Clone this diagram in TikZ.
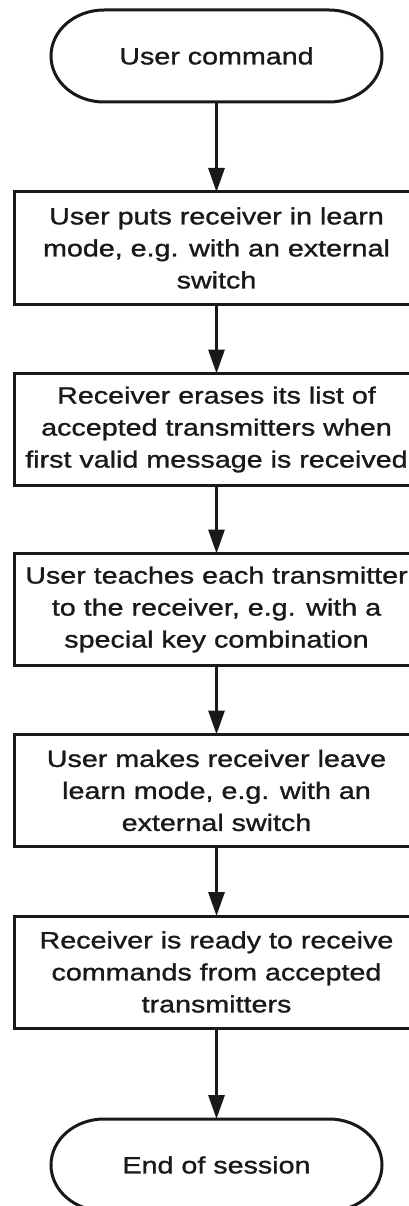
\documentclass[tikz,border=0pt]{standalone}
\usepackage{fontspec}
\newfontfamily\flowfont{Liberation Sans}[FakeStretch=1.22, FakeBold=1.2]
\usetikzlibrary{arrows.meta}

\tikzset{
  every node/.style={font=\flowfont\fontsize{23.5}{32}\selectfont, text=black!90,
                     align=center, outer sep=0pt},
  stepbox/.style={draw=black!90, line width=3pt, minimum width=405pt,
                  minimum height=112pt, inner sep=2pt},
  terminal/.style={minimum width=331pt, minimum height=92pt, inner sep=2pt},
  outline/.style={draw=black!90, line width=3pt},
  flow/.style={draw=black!90, line width=3pt, -{Triangle[length=24pt,width=16pt]}},
}

% stadium outline with elliptical ends around a terminal node
\newcommand\termoutline[1]{%
  \draw[outline] ([xshift=53pt]#1.north west) -- ([xshift=-53pt]#1.north east)
    arc[start angle=90, end angle=-90, x radius=53pt, y radius=46pt]
    -- ([xshift=53pt]#1.south west)
    arc[start angle=270, end angle=90, x radius=53pt, y radius=46pt] -- cycle;}

\begin{document}
\begin{tikzpicture}
\useasboundingbox (0,0) rectangle (409pt,-1206pt);
\clip (0,0) rectangle (409pt,-1206pt);

\node[terminal] (start) at (216.5pt,-56pt) {User command};
\node[stepbox] (learn) at (216.5pt,-248pt)
  {User puts receiver in learn\\mode, e.g. with an external\\switch};
\node[stepbox] (erase) at (216.5pt,-429.5pt)
  {Receiver erases its list of\\accepted transmitters when\\first valid message is received};
\node[stepbox] (teach) at (216.5pt,-609.5pt)
  {User teaches each transmitter\\to the receiver, e.g. with a\\special key combination};
\node[stepbox] (leave) at (216.5pt,-790.5pt)
  {User makes receiver leave\\learn mode, e.g. with an\\external switch};
\node[stepbox] (ready) at (216.5pt,-972pt)
  {Receiver is ready to receive\\commands from accepted\\transmitters};
\node[terminal] (stop) at (216.5pt,-1165pt) {End of session};

\termoutline{start}
\termoutline{stop}

\draw[flow] (start.south) -- (learn.north);
\draw[flow] (learn.south) -- (erase.north);
\draw[flow] (erase.south) -- (teach.north);
\draw[flow] (teach.south) -- (leave.north);
\draw[flow] (leave.south) -- (ready.north);
\draw[flow] (ready.south) -- (stop.north);
\end{tikzpicture}
\end{document}
